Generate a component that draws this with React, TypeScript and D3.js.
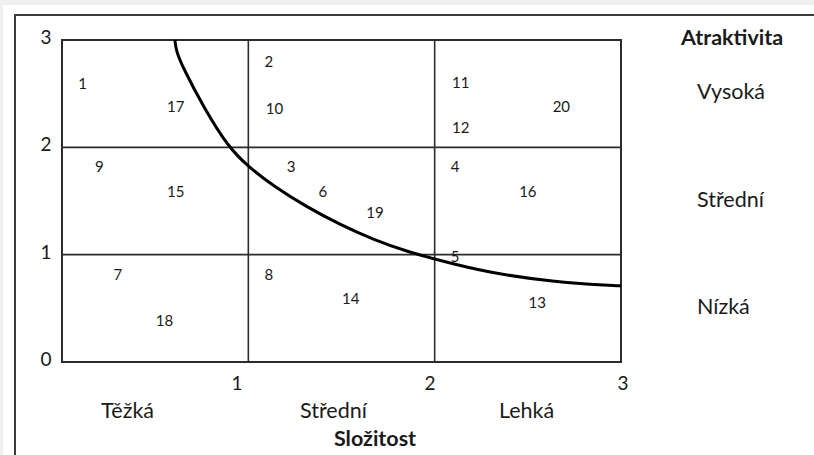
import React from "react";
import * as d3 from "d3";

const W = 814;
const H = 455;

// Project numbers placed in the matrix (label, složitost x, atraktivita y)
const pointIds = ["1", "17", "9", "15", "2", "10", "3", "6", "19", "11", "20", "12", "4", "16", "7", "18", "8", "14", "5", "13"];
const pointX = [0.11, 0.61, 0.2, 0.61, 1.11, 1.14, 1.23, 1.4, 1.68, 2.14, 2.68, 2.14, 2.11, 2.5, 0.3, 0.55, 1.11, 1.55, 2.11, 2.55];
const pointY = [2.59, 2.38, 1.82, 1.59, 2.8, 2.36, 1.82, 1.59, 1.39, 2.6, 2.38, 2.18, 1.82, 1.59, 0.81, 0.39, 0.81, 0.59, 0.98, 0.55];

// Boundary curve
const curveX = [0.606, 0.612, 0.65, 0.758, 0.893, 1.0, 1.134, 1.313, 1.492, 1.671, 1.85, 2.03, 2.28, 2.64, 2.95, 3.0];
const curveY = [3.0, 2.9, 2.74, 2.38, 2.0, 1.82, 1.64, 1.445, 1.28, 1.14, 1.03, 0.945, 0.835, 0.745, 0.712, 0.71];

const xTicks = [1, 2, 3];
const yTicks = [0, 1, 2, 3];
const gridLines = [1, 2];
const columnLabels = ["Těžká", "Střední", "Lehká"];
const columnCenters = [0.5, 1.5, 2.5];
const rowLabels = ["Vysoká", "Střední", "Nízká"];
const rowCenters = [2.5, 1.5, 0.5];
const xTitle = "Složitost";
const yTitle = "Atraktivita";

const FONT = "Lato, 'Open Sans', sans-serif";
const INK = "#1a1a1a";

export default function App() {
  const x = d3.scaleLinear().domain([0, 3]).range([62, 621]);
  const y = d3.scaleLinear().domain([0, 3]).range([362, 40]);
  const xLab = d3.scaleLinear().domain([0, 3]).range([44, 623]);

  const line = d3
    .line<number>()
    .x((_, i) => x(curveX[i]))
    .y((_, i) => y(curveY[i]))
    .curve(d3.curveBasis);

  return (
    <div style={{ position: "fixed", left: 0, top: 0 }}>
      <svg width={W} height={H} style={{ display: "block" }}>
        <rect x={0} y={0} width={W} height={H} fill="#f0f0f0" />
        <rect x={3} y={5} width={W} height={H} fill="#ffffff" />
        <path d={`M15,${H + 5} V15 H${W + 5}`} fill="none" stroke="#3c3c3c" strokeWidth={2} />

        {/* grid */}
        {gridLines.map((g) => (
          <line key={"gx" + g} x1={x(g)} x2={x(g)} y1={y(0)} y2={y(3)} stroke="#2b2b2b" strokeWidth={1.6} />
        ))}
        {gridLines.map((g) => (
          <line key={"gy" + g} x1={x(0)} x2={x(3)} y1={y(g)} y2={y(g)} stroke="#2b2b2b" strokeWidth={1.6} />
        ))}
        <rect x={x(0)} y={y(3)} width={x(3) - x(0)} height={y(0) - y(3)} fill="none" stroke="#2b2b2b" strokeWidth={2} />

        {/* curve */}
        <path d={line(curveX) || ""} fill="none" stroke="#000" strokeWidth={3} />

        {/* points */}
        {pointIds.map((id, i) => (
          <text
            key={"p" + id}
            x={x(pointX[i])}
            y={y(pointY[i])}
            dy="0.36em"
            textAnchor="middle"
            fontFamily={FONT}
            fontSize={15}
            fill={INK}
          >
            {id}
          </text>
        ))}

        {/* y ticks */}
        {yTicks.map((t) => (
          <text key={"yt" + t} x={46} y={y(t) - 3} dy="0.36em" textAnchor="middle" fontFamily={FONT} fontSize={19} fill={INK}>
            {t}
          </text>
        ))}

        {/* x ticks */}
        {xTicks.map((t) => (
          <text key={"xt" + t} x={xLab(t)} y={383} dy="0.36em" textAnchor="middle" fontFamily={FONT} fontSize={19} fill={INK}>
            {t}
          </text>
        ))}

        {/* column labels */}
        {columnLabels.map((c, i) => (
          <text key={"c" + i} x={xLab(columnCenters[i]) - (i === 0 ? 13 : 0)} y={410} dy="0.36em" textAnchor="middle" fontFamily={FONT} fontSize={21.5} fill={INK}>
            {c}
          </text>
        ))}
        <text x={375} y={438} dy="0.36em" textAnchor="middle" fontFamily={FONT} fontSize={21.5} fontWeight="bold" fill={INK}>
          {xTitle}
        </text>

        {/* right side labels */}
        <text x={681} y={37} dy="0.36em" fontFamily={FONT} fontSize={21.5} fontWeight="bold" fill={INK}>
          {yTitle}
        </text>
        {rowLabels.map((r, i) => (
          <text key={"r" + i} x={697} y={y(rowCenters[i]) - 2} dy="0.36em" fontFamily={FONT} fontSize={21.5} fill={INK}>
            {r}
          </text>
        ))}
      </svg>
    </div>
  );
}
